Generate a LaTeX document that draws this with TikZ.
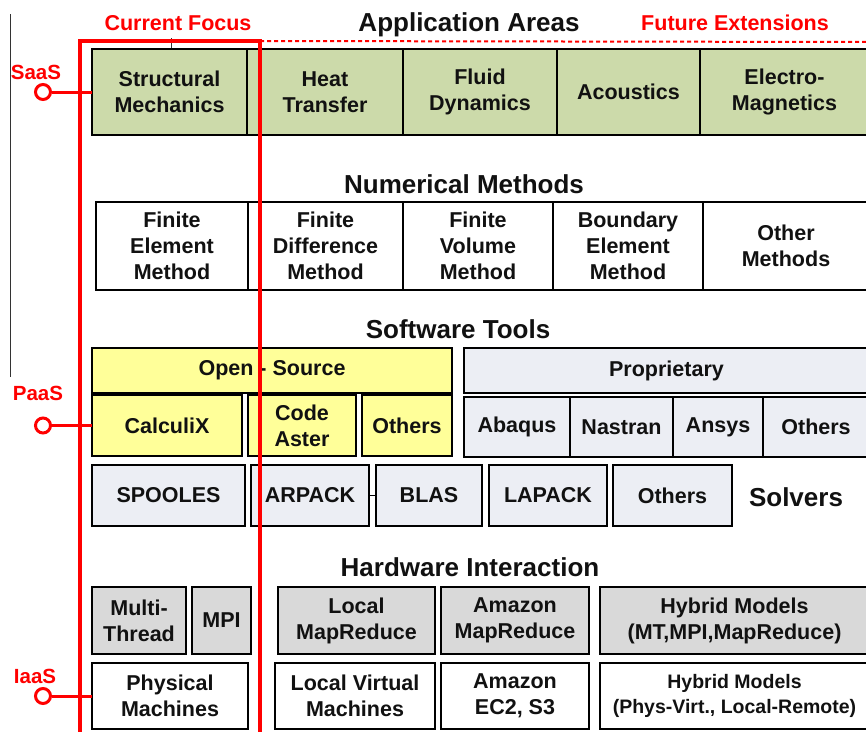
\documentclass[tikz,border=0pt]{standalone}
\usepackage{fontspec}
\setmainfont{Liberation Sans}
\definecolor{appg}{HTML}{CCDAAA}
\definecolor{osy}{HTML}{FFFF99}
\definecolor{propb}{HTML}{ECEEF4}
\definecolor{hwg}{HTML}{D9D9D9}
\definecolor{txt}{HTML}{111111}
\newcommand\mybox[7]{\node[#6, minimum width={(#4-#2)*1pt}, minimum height={(#5-#3)*1pt}] (#1) at ({(#2+#4)/2},{-(#3+#5)/2}) {#7};}
\begin{document}
\begin{tikzpicture}[x=1pt,y=1pt,
  box/.style={draw=black, line width=1.6pt, inner sep=0pt, outer sep=0pt, align=center,
    font=\fontsize{21.5}{26}\selectfont\bfseries, text=txt},
  app/.style={box, fill=appg},
  num/.style={box, fill=white},
  os/.style={box, fill=osy},
  prop/.style={box, fill=propb},
  hw/.style={box, fill=hwg},
  smalltxt/.style={font=\fontsize{19.5}{25}\selectfont\bfseries},
  ttl/.style={font=\fontsize{26}{30}\selectfont\bfseries, inner sep=0pt, text=txt},
  redlbl/.style={text=red, font=\fontsize{21.5}{24}\selectfont\bfseries, inner sep=0pt},
  aaslbl/.style={text=red, font=\fontsize{20.5}{24}\selectfont\bfseries, inner sep=0pt},
  redframe/.style={draw=red, line width=3.5pt},
  reddash/.style={draw=red, line width=2pt, dash pattern=on 4pt off 3pt},
  plug/.style={draw=red, line width=3pt},
  plugc/.style={circle, draw=red, line width=3pt, fill=white, minimum size=15pt, inner sep=0pt}
]
\useasboundingbox (0,0) rectangle (866,-731);
\fill[white] (0,0) rectangle (866,-731);

% thin black line at left and small tick
\coordinate (bl1) at (10,-14);
\coordinate (bl2) at (10,-377);
\draw[line width=0.8pt, black!80] (bl1) -- (bl2);
\coordinate (tk1) at (171,-38);
\coordinate (tk2) at (171,-49);
\draw[line width=1pt, black!80] (tk1) -- (tk2);

% titles
\node[ttl] (tApp) at (469,-25) {Application Areas};
\node[ttl] (tNum) at (464,-184) {Numerical Methods};
\node[ttl] (tSw) at (458,-329) {Software Tools};
\node[ttl] (tHw) at (470,-567) {Hardware Interaction};
\node[ttl] (tSol) at (796,-497) {Solvers};
\node[redlbl] (cf) at (178,-23) {Current Focus};
\node[redlbl] (fe) at (735,-23) {Future Extensions};

% application areas
\mybox{sm}{92}{49}{247}{135}{app}{Structural\\Mechanics}
\mybox{ht}{247}{49}{403}{135}{app}{Heat\\Transfer}
\mybox{fd}{403}{49}{557}{135}{app}{Fluid\\Dynamics}
\mybox{ac}{557}{49}{700}{135}{app}{Acoustics}
\mybox{em}{700}{49}{869}{135}{app}{Electro-\\Magnetics}

% numerical methods
\mybox{fem}{96}{202}{248}{290}{num}{Finite\\Element\\Method}
\mybox{fdm}{248}{202}{403}{290}{num}{Finite\\Difference\\Method}
\mybox{fvm}{403}{202}{553}{290}{num}{Finite\\Volume\\Method}
\mybox{bem}{553}{202}{703}{290}{num}{Boundary\\Element\\Method}
\mybox{om}{703}{202}{869}{290}{num}{Other\\Methods}

% software tools
\mybox{osrc}{92}{348}{452}{393}{os}{Open - Source}
\mybox{prp}{464}{348}{869}{393}{prop}{Proprietary}
\mybox{calc}{92}{395}{242}{456}{os}{CalculiX}
\mybox{ca}{248}{395}{356}{456}{os}{Code\\Aster}
\mybox{oth1}{362}{395}{452}{456}{os}{Others}
\mybox{aba}{464}{397}{570}{457}{prop}{Abaqus}
\mybox{nas}{570}{397}{673}{457}{prop}{Nastran}
\mybox{ans}{673}{397}{763}{457}{prop}{Ansys}
\mybox{oth2}{763}{397}{869}{457}{prop}{Others}

% solvers
\mybox{spo}{92}{465}{245}{526}{prop}{SPOOLES}
\mybox{arp}{251}{465}{369}{526}{prop}{ARPACK}
\mybox{blas}{376}{465}{482}{526}{prop}{BLAS}
\mybox{lap}{489}{465}{607}{526}{prop}{LAPACK}
\mybox{oth3}{613}{465}{732}{526}{prop}{Others}
\draw[line width=1.2pt] (arp.east) -- (blas.west);

% hardware interaction
\mybox{mt}{92}{587}{186}{654}{hw}{Multi-\\Thread}
\mybox{mpi}{192}{587}{251}{654}{hw}{MPI}
\mybox{lmr}{278}{587}{435}{654}{hw}{Local\\MapReduce}
\mybox{amr}{441}{587}{589}{654}{hw}{Amazon\\MapReduce}
\mybox{hyb1}{600}{587}{869}{654}{hw}{Hybrid Models\\(MT,MPI,MapReduce)}
\mybox{pm}{92}{663}{248}{729}{num}{Physical\\Machines}
\mybox{lvm}{275}{663}{435}{729}{num}{Local Virtual\\Machines}
\mybox{ec2}{441}{663}{589}{729}{num}{Amazon\\EC2, S3}
\mybox{hyb2}{600}{663}{869}{729}{num,smalltxt}{Hybrid Models\\(Phys-Virt., Local-Remote)}

% red frame
\coordinate (rf1) at (80,-735);
\coordinate (rf2) at (80,-41);
\coordinate (rf3) at (260,-41);
\coordinate (rf4) at (260,-735);
\coordinate (rd2) at (868,-42);
\draw[reddash] (rf3) -- (rd2);
\draw[redframe] (rf1) -- (rf2) -- (rf3) -- (rf4);

% service layer plugs
\node[aaslbl] (saas) at (36,-72) {SaaS};
\node[plugc] (saasc) at (43,-92) {};
\draw[plug] (saasc.east) -- (sm.west);
\node[aaslbl] (paas) at (38,-393) {PaaS};
\node[plugc] (paasc) at (43,-425.5) {};
\draw[plug] (paasc.east) -- (calc.west);
\node[aaslbl] (iaas) at (35,-676) {IaaS};
\node[plugc] (iaasc) at (43,-696) {};
\draw[plug] (iaasc.east) -- (pm.west);
\end{tikzpicture}
\end{document}
